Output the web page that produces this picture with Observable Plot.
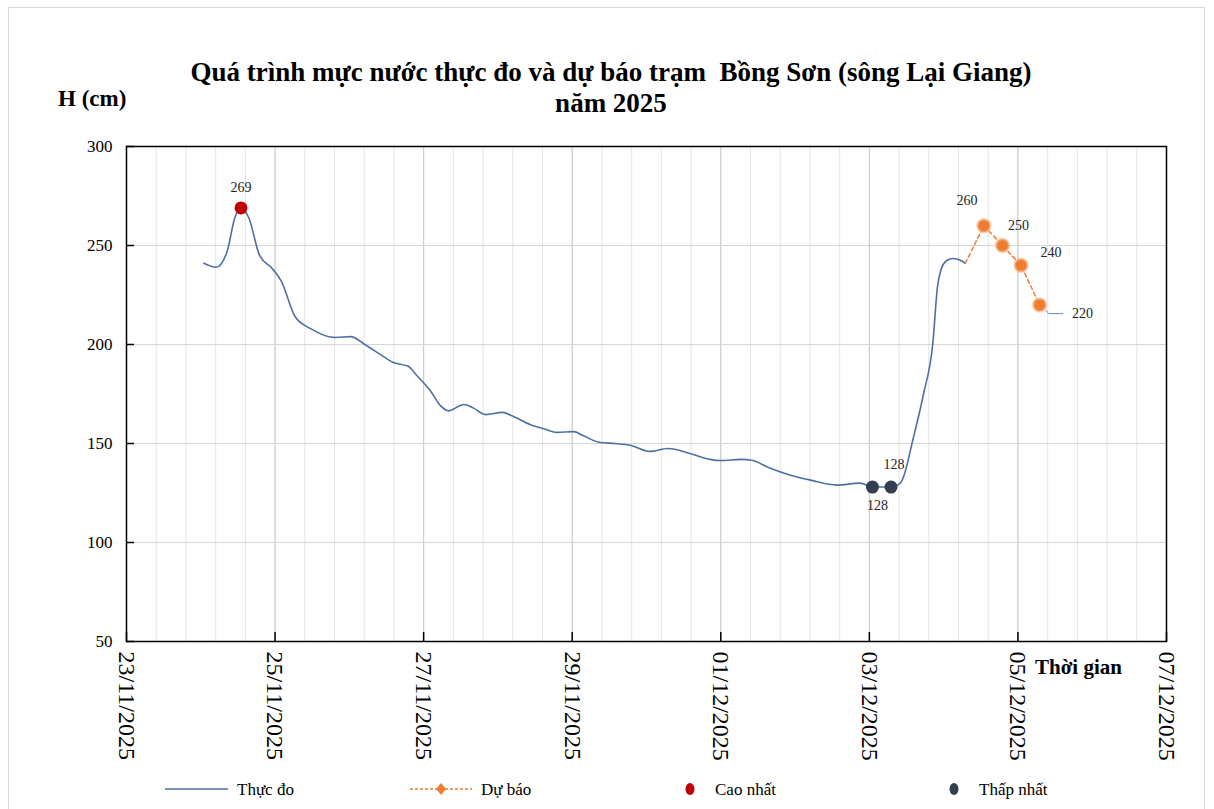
<!DOCTYPE html>
<html><head><meta charset="utf-8">
<script src="https://cdn.jsdelivr.net/npm/d3@7"></script>
<script src="https://cdn.jsdelivr.net/npm/@observablehq/plot@0.6"></script>
<style>
body{margin:0;background:#fff;font-family:"Liberation Serif",serif;color:#000;}
#wrap{position:relative;width:1214px;height:809px;overflow:hidden;background:#fff;}
#frame{position:absolute;left:8px;top:7px;width:1197px;height:830px;border:1px solid #d9d9d9;box-sizing:border-box;}
#title{position:absolute;left:0;width:1222px;top:57px;text-align:center;font-weight:bold;font-size:27px;line-height:31px;}
#ylab{position:absolute;left:58px;top:86px;font-weight:bold;font-size:23px;}
#chart{position:absolute;left:0;top:130px;}
#xlab{position:absolute;left:1035px;top:655px;font-weight:bold;font-size:21px;}
.leg{position:absolute;top:778px;height:24px;font-size:17px;line-height:24px;}
.leg svg{position:absolute;top:0;}
</style>
</head><body>
<div id="wrap">
  <div id="frame"></div>
  <div id="title">Quá trình mực nước thực đo và dự báo trạm&nbsp; Bồng Sơn (sông Lại Giang)<br>năm 2025</div>
  <div id="ylab">H (cm)</div>
  <div id="chart"></div>
  <div id="xlab">Thời gian</div>
  <div id="legend"></div>
</div>
<script>
// ---- data ----
const measuredTime = [
 "2025-11-24T01:00","2025-11-24T05:00","2025-11-24T08:30","2025-11-24T11:00","2025-11-24T13:00",
 "2025-11-24T15:30","2025-11-24T19:00","2025-11-24T23:00","2025-11-25T02:00","2025-11-25T06:30",
 "2025-11-25T11:30","2025-11-25T19:30","2025-11-26T00:30","2025-11-26T05:00","2025-11-26T10:00",
 "2025-11-26T14:00","2025-11-26T19:00","2025-11-26T22:00","2025-11-27T02:00","2025-11-27T05:30",
 "2025-11-27T08:00","2025-11-27T13:00","2025-11-27T16:00","2025-11-27T20:00","2025-11-28T01:30",
 "2025-11-28T04:30","2025-11-28T10:30","2025-11-28T14:30","2025-11-28T19:00","2025-11-29T00:30",
 "2025-11-29T03:30","2025-11-29T09:00","2025-11-29T14:00","2025-11-29T19:00","2025-11-30T01:00",
 "2025-11-30T07:00","2025-11-30T14:00","2025-11-30T20:30","2025-12-01T00:00","2025-12-01T06:30",
 "2025-12-01T10:00","2025-12-01T16:00","2025-12-01T22:30","2025-12-02T05:00","2025-12-02T13:30",
 "2025-12-02T21:00","2025-12-03T01:00","2025-12-03T07:00","2025-12-03T10:00","2025-12-03T11:00",
 "2025-12-03T14:00","2025-12-03T17:30","2025-12-03T20:30","2025-12-03T22:00","2025-12-03T23:00",
 "2025-12-04T01:00","2025-12-04T03:00","2025-12-04T05:30","2025-12-04T07:00"
];
const measuredH = [
 241,239,247,264,269,
 264,245,238.5,232,214,
 208,203.5,204,200,195,
 191,189,184,177,169,
 166.5,169.7,168,164.6,165.7,
 164,159.5,157.6,155.6,156,
 154,150.5,150,149,146,
 147.5,145,142,141.4,142,
 141.5,137.5,134,131.5,129,
 130,128,128,130,133,
 151.5,175,200.5,229,237,
 242.4,243.4,242.4,241
];
const forecastTime = ["2025-12-04T07:00","2025-12-04T13:00","2025-12-04T19:00","2025-12-05T01:00","2025-12-05T07:00"];
const forecastH = [241,260,250,240,220];
const peakTime = ["2025-11-24T13:00"], peakH = [269];
const lowTime = ["2025-12-03T01:00","2025-12-03T07:00"], lowH = [128,128];
const xTickLabels = ["23/11/2025","25/11/2025","27/11/2025","29/11/2025","01/12/2025","03/12/2025","05/12/2025","07/12/2025"];
const yTicks = [50,100,150,200,250,300];

// ---- build ----
const parseT = s => new Date(s + "Z");
const measured = measuredTime.map((t,i)=>({t:parseT(t), h:measuredH[i]}));
const forecast = forecastTime.map((t,i)=>({t:parseT(t), h:forecastH[i]}));
const peak = peakTime.map((t,i)=>({t:parseT(t), h:peakH[i]}));
const lows = lowTime.map((t,i)=>({t:parseT(t), h:lowH[i]}));
const parseLbl = d3.utcParse("%d/%m/%Y");
const xTicks = xTickLabels.map(parseLbl);
const x0 = xTicks[0], x1 = xTicks[xTicks.length-1];
const minorGrid = d3.range(0, 14.001, 0.4).map(d => new Date(+x0 + d*86400000));
const fc = forecast.slice(1);
const last = forecast[forecast.length-1];
const hr = 3600000;
const leader = [
  {t:new Date(+last.t + 2*hr), h:last.h-2.8},
  {t:new Date(+last.t + 3*hr), h:last.h-4.4},
  {t:new Date(+last.t + 7.5*hr), h:last.h-4.4}
];

const W=1214, H=640, ML=126, MR=48, MT=16, MB=129;
const plotW = W-ML-MR, plotH = H-MT-MB;
const lblFont = {fontSize:14, fontFamily:"Liberation Serif", fill:"#222"};

const chart = Plot.plot({
  width:W, height:H, marginLeft:ML, marginRight:MR, marginTop:MT, marginBottom:MB,
  style:{fontFamily:"Liberation Serif", background:"transparent", color:"#000", overflow:"visible"},
  x:{type:"utc", domain:[x0,x1], label:null},
  y:{domain:[50,300], label:null},
  marks:[
    Plot.ruleX(minorGrid,{stroke:"#e4e4e4", strokeWidth:1}),
    Plot.ruleX(xTicks,{stroke:"#c9c9c9", strokeWidth:1}),
    Plot.ruleY(yTicks,{stroke:"#d6d6d6", strokeWidth:1}),
    Plot.axisY({ticks:yTicks, tickSize:0, tickPadding:14, fontSize:17, label:null}),
    Plot.axisX({ticks:xTicks, tickFormat:d3.utcFormat("%d/%m/%Y"), tickRotate:90, tickSize:0, tickPadding:10, fontSize:24, label:null}),
    Plot.line(measured,{x:"t", y:"h", stroke:"#4d70a3", strokeWidth:1.6, curve:"monotone-x"}),
    Plot.line(forecast,{x:"t", y:"h", stroke:"#ed7d31", strokeWidth:1.5, strokeDasharray:"4,3"}),
    Plot.line(leader,{x:"t", y:"h", stroke:"#6d87ad", strokeWidth:1}),
    Plot.dot(fc,{x:"t", y:"h", r:6.5, fill:"#ed7d31", stroke:"#f7b98a", strokeWidth:2.5, strokeOpacity:0.6}),
    Plot.dot(peak,{x:"t", y:"h", r:6.5, fill:"#c00000"}),
    Plot.dot(lows,{x:"t", y:"h", r:6.5, fill:"#333f50"}),
    Plot.text(peak,{x:"t", y:"h", text:d=>String(d.h), dy:-20, ...lblFont}),
    Plot.text([lows[0]],{x:"t", y:"h", text:d=>String(d.h), dx:5, dy:18, ...lblFont}),
    Plot.text([lows[1]],{x:"t", y:"h", text:d=>String(d.h), dx:3, dy:-23, ...lblFont}),
    Plot.text([fc[0]],{x:"t", y:"h", text:d=>String(d.h), dx:-17, dy:-25, ...lblFont}),
    Plot.text([fc[1]],{x:"t", y:"h", text:d=>String(d.h), dx:16, dy:-20, ...lblFont}),
    Plot.text([fc[2]],{x:"t", y:"h", text:d=>String(d.h), dx:30, dy:-13, ...lblFont}),
    Plot.text([fc[3]],{x:"t", y:"h", text:d=>String(d.h), dx:43, dy:9, ...lblFont}),
    Plot.tickY(yTicks,{stroke:"#000", strokeWidth:1.5, insetRight:plotW-8}),
    Plot.tickX(xTicks,{stroke:"#000", strokeWidth:1.5, insetTop:plotH-9}),
    Plot.frame({stroke:"#000", strokeWidth:1.5})
  ]
});
document.getElementById("chart").appendChild(chart);

// ---- legend ----
const legendItems = [
  {label:"Thực đo", x:165, sw:63, type:"line"},
  {label:"Dự báo", x:410, sw:62, type:"dash"},
  {label:"Cao nhất", x:680, sw:26, type:"dotRed"},
  {label:"Thấp nhất", x:944, sw:26, type:"dotDark"}
];
const leg = document.getElementById("legend");
legendItems.forEach(it=>{
  const d = document.createElement("div");
  d.className="leg";
  d.style.left = it.x+"px";
  let svg = `<svg width="${it.sw}" height="24">`;
  if(it.type==="line") svg += `<line x1="0" x2="${it.sw}" y1="11" y2="11" stroke="#4d70a3" stroke-width="1.6"/>`;
  if(it.type==="dash") svg += `<line x1="0" x2="${it.sw}" y1="11" y2="11" stroke="#ed7d31" stroke-width="1.5" stroke-dasharray="3,2"/><path d="M${it.sw/2} 5 L${it.sw/2+5} 11 L${it.sw/2} 17 L${it.sw/2-5} 11Z" fill="#ed7d31"/>`;
  if(it.type==="dotRed") svg += `<ellipse cx="10" cy="11" rx="4.5" ry="6" fill="#c00000"/>`;
  if(it.type==="dotDark") svg += `<ellipse cx="10" cy="11" rx="4.5" ry="6" fill="#333f50"/>`;
  svg += `</svg>`;
  d.innerHTML = svg + `<span style="position:absolute;left:${it.sw+9}px;white-space:nowrap">${it.label}</span>`;
  leg.appendChild(d);
});
</script>
</body></html>
